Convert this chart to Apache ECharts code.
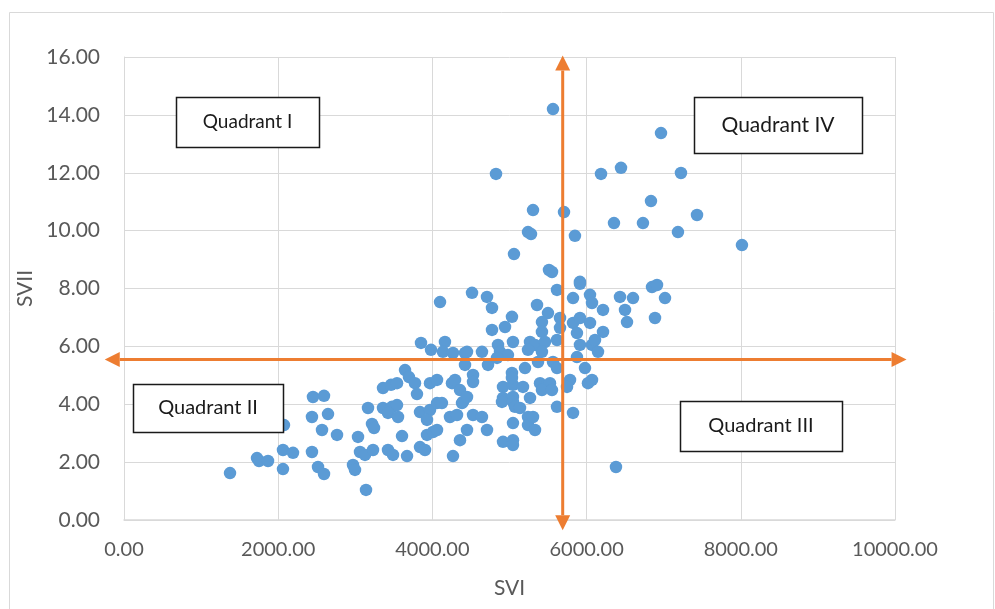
<!DOCTYPE html>
<html><head><meta charset="utf-8">
<script src="https://cdn.jsdelivr.net/npm/echarts@6/dist/echarts.min.js"></script>
<style>html,body{margin:0;padding:0;background:#fff}#c{width:995px;height:609px}</style>
</head><body><div id="c"></div>
<script>
// ---- data ----
const svi = [1375,1725,1751,1868,2062,2062,2075,2192,2438,2451,
2594,2438,2646,2568,2763,2516,2594,2970,2996,3139,
3035,3165,3217,3243,3061,3126,3230,3359,3463,3541,
3359,3476,3541,3424,3554,3424,3489,3606,3671,3645,
3696,3774,3800,3839,3969,3930,4060,4124,4228,4319,
4384,3839,3904,3930,4008,4060,4358,4267,3969,4060,
4254,4293,4358,3852,3982,4163,4137,4267,4423,4423,
4099,4514,4708,4773,5357,5616,5824,6044,6070,5032,
4942,4773,5499,5421,5421,5655,5655,5824,5914,5875,
6044,5045,5266,5331,5460,5616,5914,6070,4449,4643,
4851,4877,4980,5240,5421,4721,4838,5201,5032,5370,
5564,5616,5875,5979,4527,4527,4916,5045,5175,5032,
5396,5460,5525,5421,5551,6018,4916,5045,5266,4397,
4449,4527,4643,4449,4708,4903,5045,5071,5136,5045,
5240,5240,5331,4916,5045,5045,5616,5824,6213,6433,
6602,6498,6524,6848,6913,7017,6887,5914,6213,6109,
6070,5785,5746,5305,6381,5564,6965,4825,6187,6446,
7224,5305,5707,6835,7432,6731,6355,7185,8015,5240,
5849,5058,5512,5551,5914,5279,6148];
const svii = [1.62,2.14,2.04,2.04,2.42,1.76,3.28,2.32,2.35,4.25,
4.29,3.56,3.66,3.11,2.94,1.83,1.59,1.90,1.73,1.04,
2.87,3.87,3.32,3.18,2.35,2.25,2.42,4.56,4.67,4.73,
3.87,3.91,3.97,3.70,3.56,2.42,2.25,2.90,2.21,5.18,
4.94,4.73,4.35,3.73,3.80,3.46,4.04,4.04,3.56,3.63,
4.04,2.52,2.42,2.94,3.04,3.11,2.76,2.21,4.73,4.84,
4.73,4.84,4.49,6.12,5.88,6.15,5.81,5.77,5.77,5.36,
7.53,7.85,7.71,7.33,7.43,7.95,7.67,7.78,7.50,7.02,
6.67,6.57,7.15,6.84,6.50,6.98,6.64,6.81,6.98,6.46,
6.81,6.15,6.15,6.05,6.15,6.22,6.05,6.05,5.81,5.81,
6.05,5.81,5.70,5.88,5.81,5.36,5.60,5.25,5.08,5.46,
5.46,5.25,5.63,5.25,5.01,4.77,4.60,4.67,4.60,4.91,
4.73,4.60,4.73,4.49,4.49,4.73,4.22,4.25,4.22,4.08,
4.25,3.63,3.56,3.11,3.11,4.08,4.08,3.91,3.87,3.35,
3.56,3.28,3.11,2.70,2.76,2.59,3.91,3.70,7.26,7.71,
7.67,7.26,6.84,8.05,8.12,7.67,6.98,8.23,6.50,6.22,
4.84,4.84,4.60,3.56,1.83,14.20,13.37,11.96,11.96,12.17,
11.99,10.71,10.64,11.02,10.54,10.26,10.26,9.95,9.50,9.95,
9.82,9.19,8.64,8.57,8.16,9.88,5.81];
const xTicks = [0, 2000, 4000, 6000, 8000, 10000];
const yTicks = [0, 2, 4, 6, 8, 10, 12, 14, 16];
const splitSVI = 5690;   // vertical divider
const splitSVII = 5.55;  // horizontal divider
const quadrantNames = ['Quadrant I', 'Quadrant IV', 'Quadrant II', 'Quadrant III'];

// ---- chart ----
const FONT = 'Lato, "Open Sans", sans-serif';
const chart = echarts.init(document.getElementById('c'), null, {renderer: 'canvas'});
const points = svi.map((x, i) => [x, svii[i]]);
chart.setOption({
  animation: false,
  backgroundColor: '#fff',
  grid: {left: 124, right: 100, top: 57, bottom: 89},
  xAxis: {
    type: 'value', min: xTicks[0], max: xTicks[xTicks.length - 1], interval: xTicks[1] - xTicks[0],
    name: 'SVI', nameLocation: 'middle', nameGap: 58,
    nameTextStyle: {color: '#595959', fontSize: 21, fontFamily: FONT},
    axisLine: {show: true, lineStyle: {color: '#d9d9d9', width: 1.5}},
    axisTick: {show: false},
    axisLabel: {color: '#595959', fontSize: 20, fontFamily: FONT, margin: 20, formatter: v => v.toFixed(2)},
    splitLine: {show: true, lineStyle: {color: '#d9d9d9', width: 1}}
  },
  yAxis: {
    type: 'value', min: yTicks[0], max: yTicks[yTicks.length - 1], interval: yTicks[1] - yTicks[0],
    name: 'SVII', nameLocation: 'middle', nameGap: 84, nameRotate: 90,
    nameTextStyle: {color: '#595959', fontSize: 21, fontFamily: FONT},
    axisLine: {show: true, lineStyle: {color: '#d9d9d9', width: 1}},
    axisTick: {show: false},
    axisLabel: {color: '#595959', fontSize: 21, fontFamily: FONT, margin: 24, formatter: v => v.toFixed(2)},
    splitLine: {show: true, lineStyle: {color: '#d9d9d9', width: 1}}
  },
  series: [{
    type: 'scatter', data: points, symbolSize: 12.5,
    itemStyle: {color: '#5B9BD5', opacity: 1}, z: 2
  }]
});

// ---- annotations (orange dividers + quadrant boxes) ----
function px(x, y) { return chart.convertToPixel({gridIndex: 0}, [x, y]); }
const ORANGE = '#ED7D31';
const AL = 15, AW = 7.5;
function arrowLine(p1, p2) {
  const dx = p2[0] - p1[0], dy = p2[1] - p1[1];
  const len = Math.sqrt(dx * dx + dy * dy), ux = dx / len, uy = dy / len;
  const nx = -uy, ny = ux;
  const a1 = [p1[0] + ux * AL, p1[1] + uy * AL];
  const a2 = [p2[0] - ux * AL, p2[1] - uy * AL];
  return [
    {type: 'line', z: 50, shape: {x1: a1[0], y1: a1[1], x2: a2[0], y2: a2[1]}, style: {stroke: ORANGE, lineWidth: 3}},
    {type: 'polygon', z: 50, shape: {points: [p1, [a1[0] + nx * AW, a1[1] + ny * AW], [a1[0] - nx * AW, a1[1] - ny * AW]]}, style: {fill: ORANGE}},
    {type: 'polygon', z: 50, shape: {points: [p2, [a2[0] + nx * AW, a2[1] + ny * AW], [a2[0] - nx * AW, a2[1] - ny * AW]]}, style: {fill: ORANGE}}
  ];
}
const hL = px(-250, splitSVII), hR = px(10150, splitSVII);
const vT = px(splitSVI, 16.05), vB = px(splitSVI, -0.35);
const boxes = [
  {x: 176, y: 97, w: 143, h: 50, fs: 19},
  {x: 694, y: 97, w: 168, h: 56, fs: 21},
  {x: 133, y: 384, w: 150, h: 48, fs: 20},
  {x: 680, y: 401, w: 162, h: 50, fs: 20}
];
const graphics = [
  {type: 'rect', z: 0, silent: true, shape: {x: 9.5, y: 12.5, width: 984, height: 640}, style: {fill: 'none', stroke: '#d9d9d9', lineWidth: 1}}
];
boxes.forEach((b, i) => {
  graphics.push({type: 'rect', z: 40, shape: {x: b.x + 0.5, y: b.y + 0.5, width: b.w, height: b.h}, style: {fill: '#fff', stroke: '#1a1a1a', lineWidth: 1.5}});
  graphics.push({type: 'text', z: 41, x: b.x + b.w / 2, y: b.y + b.h / 2, style: {text: quadrantNames[i], fill: '#1a1a1a', font: b.fs + 'px ' + FONT, textAlign: 'center', textVerticalAlign: 'middle'}});
});
graphics.push(...arrowLine(hL, hR), ...arrowLine(vT, vB));
chart.setOption({graphic: graphics});
</script>
</body></html>
